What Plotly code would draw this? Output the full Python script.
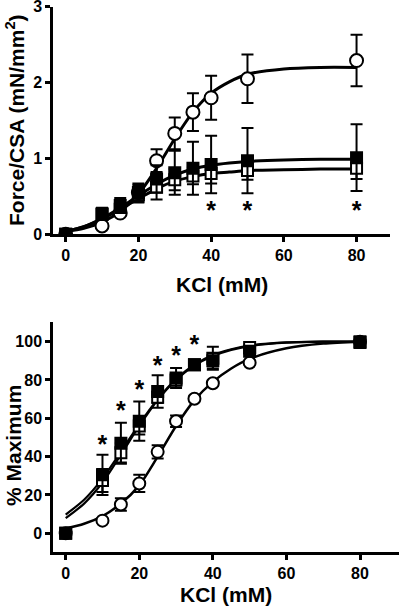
import plotly.graph_objects as go

# ---------------- data ----------------
kcl = [0, 10, 15, 20, 25, 30, 35, 40, 50, 80]

# top panel: force / CSA (mN/mm^2)
circ_force = [0, 0.11, 0.28, 0.55, 0.97, 1.33, 1.61, 1.80, 2.05, 2.29]
circ_force_sem = [0, 0.04, 0.04, 0.10, 0.15, 0.21, 0.25, 0.29, 0.32, 0.34]
fsq_force = [0, 0.27, 0.38, 0.55, 0.73, 0.81, 0.87, 0.92, 0.97, 1.01]
fsq_force_sem = [0, 0.08, 0.10, 0.12, 0.18, 0.29, 0.35, 0.38, 0.43, 0.44]
osq_force = [0, 0.26, 0.33, 0.52, 0.62, 0.72, 0.77, 0.80, 0.84, 0.87]
osq_force_sem = [0, 0.07, 0.08, 0.10, 0.16, 0.14, 0.11, 0.13, 0.12, 0.14]

# fitted curves
fit_x = [0, 5, 10, 15, 20, 25, 30, 35, 40, 45, 50, 60, 70, 80]
circ_force_fit = [0.04, 0.08, 0.16, 0.30, 0.53, 0.87, 1.26, 1.61, 1.86, 2.01, 2.11, 2.18, 2.20, 2.20]
fsq_force_fit = [0.04, 0.10, 0.21, 0.35, 0.51, 0.66, 0.78, 0.86, 0.91, 0.94, 0.96, 0.98, 0.99, 0.99]
osq_force_fit = [0.04, 0.10, 0.20, 0.33, 0.47, 0.60, 0.70, 0.76, 0.80, 0.82, 0.84, 0.85, 0.86, 0.86]

# asterisk positions (text anchor)
force_star_x = [40, 50, 80]
force_star_y = [0.28, 0.28, 0.28]

# bottom panel: % maximum
circ_pct = [0, 6.6, 15, 26, 42.5, 58.5, 70.2, 78.3, 89, 100]
circ_pct_sem = [0, 1, 3.3, 4.5, 3.5, 3, 1.5, 1.5, 1, 0]
fsq_pct = [0, 30.5, 47, 58.5, 74, 81, 88, 90, 95, 99.5]
fsq_pct_sem = [0, 10.5, 10.7, 10.2, 8.5, 5.2, 2, 4, 1.5, 0]
osq_pct = [0, 27.5, 42, 56, 71, 80, 88, 91.3, 97, 100]
osq_pct_sem = [0, 6, 5, 4.5, 3, 3, 2, 6, 1.5, 0]

circ_pct_fit = [2.6, 5, 9, 15.5, 25, 40, 56, 69.5, 79, 86, 91, 96.5, 99, 100]
fsq_pct_fit = [9.8, 17.5, 28.5, 42.5, 57, 70, 80.5, 88, 93, 96, 98, 99.6, 100, 100]
osq_pct_fit = [7.9, 15.5, 26.5, 41, 56, 69.5, 80, 87.5, 92.5, 95.7, 97.7, 99.5, 100, 100]

pct_star_x = [10, 15, 20, 25, 30, 35]
pct_star_y = [45.2, 63, 73.9, 86.6, 91.8, 97.5]

x_ticks = [0, 20, 40, 60, 80]
force_ticks = [0, 1, 2, 3]
pct_ticks = [0, 20, 40, 60, 80, 100]

# ---------------- layout helpers ----------------
W, H = 400, 612
FONT = "Liberation Sans, Arial, sans-serif"


def px(x):
    return x / W


def py(y):
    return 1 - y / H


fig = go.Figure()


def add_panel(xa, ya, xs, curves, series, stars_x, stars_y, widths):
    for cy, w in zip(curves, widths):
        fig.add_trace(go.Scatter(x=fit_x, y=cy, mode="lines",
                                 line=dict(color="black", width=w, shape="spline", smoothing=0.8),
                                 xaxis=xa, yaxis=ya, hoverinfo="skip"))
    for (vals, sem, sym, fill, size) in series:
        fig.add_trace(go.Scatter(x=xs, y=vals, mode="markers",
                                 marker=dict(symbol=sym, size=size, color=fill,
                                             line=dict(color="black", width=2)),
                                 error_y=dict(type="data", array=sem, visible=True,
                                              color="black", thickness=2, width=6),
                                 xaxis=xa, yaxis=ya))
    fig.add_trace(go.Scatter(x=stars_x, y=stars_y, mode="text", text=["*"] * len(stars_x),
                             textfont=dict(family=FONT, size=25, color="black", weight=700),
                             textposition="middle center",
                             xaxis=xa, yaxis=ya, hoverinfo="skip"))


add_panel("x", "y", kcl,
          [circ_force_fit, fsq_force_fit, osq_force_fit],
          [(osq_force, osq_force_sem, "square", "white", 11),
           (circ_force, circ_force_sem, "circle", "white", 13),
           (fsq_force, fsq_force_sem, "square", "black", 11)],
          force_star_x, force_star_y, [3, 3, 3])

add_panel("x2", "y2", kcl,
          [circ_pct_fit, fsq_pct_fit, osq_pct_fit],
          [(osq_pct, osq_pct_sem, "square", "white", 11),
           (circ_pct, circ_pct_sem, "circle", "white", 12),
           (fsq_pct, fsq_pct_sem, "square", "black", 11)],
          pct_star_x, pct_star_y, [2.5, 2.2, 2.2])

axis_common = dict(showgrid=False, zeroline=False, showline=True, linecolor="black",
                   linewidth=2.5, ticks="outside", ticklen=5, tickwidth=2.5,
                   tickcolor="black", ticklabeloverflow="allow", automargin=False,
                   tickfont=dict(family=FONT, size=16, color="black", weight=700))

fig.update_layout(
    width=W, height=H, margin=dict(l=0, r=0, t=0, b=0, pad=0),
    paper_bgcolor="white", plot_bgcolor="white", showlegend=False,
    xaxis=dict(domain=[px(53), px(390)], range=[-3.49, 89.2], tickvals=x_ticks,
               anchor="y", **axis_common),
    yaxis=dict(domain=[py(234.3), py(6.7)], range=[0, 3], tickvals=force_ticks,
               anchor="x", **axis_common),
    xaxis2=dict(domain=[px(53), px(399)], range=[-3.45, 90.6], tickvals=x_ticks,
                anchor="y2", **axis_common),
    yaxis2=dict(domain=[py(552), py(321.7)], range=[-9.76, 110.4], tickvals=pct_ticks,
                anchor="x2", **axis_common),
)

title_font = dict(family=FONT, size=21, color="black", weight=700)
fig.add_annotation(text="KCl (mM)", x=px(222), y=py(284), xref="paper", yref="paper",
                   showarrow=False, font=title_font, xanchor="center", yanchor="middle")
fig.add_annotation(text="KCl (mM)", x=px(226), y=py(594), xref="paper", yref="paper",
                   showarrow=False, font=title_font, xanchor="center", yanchor="middle")
fig.add_annotation(text="Force/CSA (mN/mm<sup>2</sup>)", x=px(15), y=py(120), xref="paper",
                   yref="paper", showarrow=False, font=title_font, textangle=-90,
                   xanchor="center", yanchor="middle")
fig.add_annotation(text="% Maximum", x=px(13), y=py(446), xref="paper", yref="paper",
                   showarrow=False, font=title_font, textangle=-90,
                   xanchor="center", yanchor="middle")

fig.write_html("out.html", config={"displayModeBar": False},
               post_script="document.body.style.margin='0';document.body.style.overflow='hidden';")
